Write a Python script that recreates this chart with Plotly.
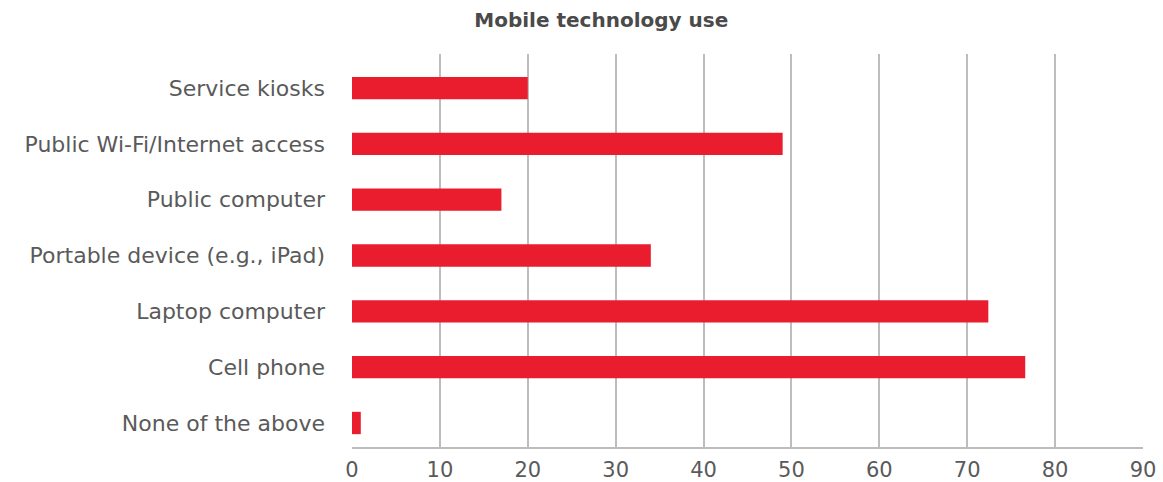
import plotly.graph_objects as go

categories = ["None of the above", "Cell phone", "Laptop computer", "Portable device (e.g., iPad)",
              "Public computer", "Public Wi-Fi/Internet access", "Service kiosks"]
values = [1, 76.6, 72.4, 34, 17, 49, 20]
x_ticks = [0, 10, 20, 30, 40, 50, 60, 70, 80, 90]

FONT = "DejaVu Sans, sans-serif"

fig = go.Figure(go.Bar(
    x=values, y=categories, orientation="h",
    marker=dict(color="#e91d2e", line=dict(width=0)),
    width=0.4,
))

fig.update_layout(
    width=1163, height=482,
    margin=dict(l=352, r=20, t=54, b=35, pad=0),
    plot_bgcolor="white", paper_bgcolor="white",
    showlegend=False,
    title=dict(text="<b>Mobile technology use</b>", x=0.517, xanchor="center",
               y=0.958, yanchor="middle", automargin=False,
               font=dict(family=FONT, size=20, color="#4a4a4a")),
    font=dict(family=FONT, color="#5a5a5a"),
)
fig.update_xaxes(
    range=[0, 90], tickvals=x_ticks, showgrid=True, gridcolor="#bdbdbd", gridwidth=1.5,
    zeroline=False, showline=True, linecolor="#bdbdbd", linewidth=1.5,
    tickfont=dict(size=21, color="#5a5a5a"), ticklabelstandoff=3, fixedrange=True,
    automargin=False,
)
fig.update_yaxes(
    range=[-0.43, 6.61], categoryorder="array", categoryarray=categories,
    showgrid=False, zeroline=False, showline=False, automargin=False,
    tickfont=dict(size=22, color="#5a5a5a"), ticklabelstandoff=26,
)

fig.write_html("out.html", config={"displayModeBar": False},
               post_script="document.body.style.margin='0';document.body.style.padding='0';")
